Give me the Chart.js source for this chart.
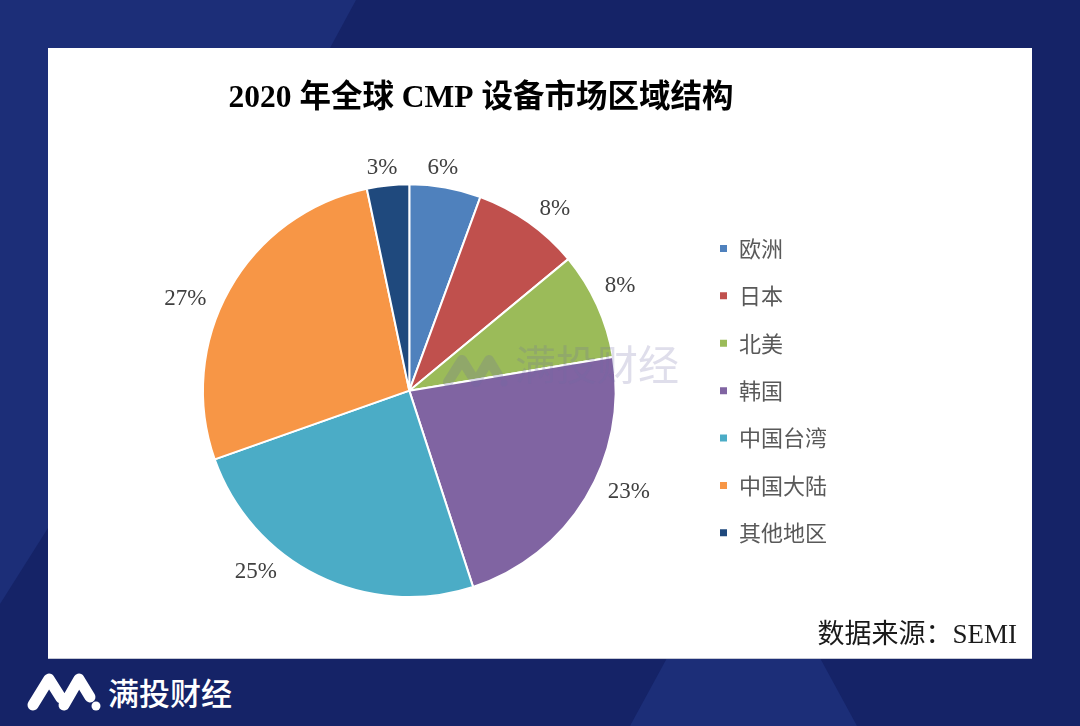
<!DOCTYPE html>
<html>
<head>
<meta charset="utf-8">
<script src="https://cdn.jsdelivr.net/npm/chart.js@4.4.0/dist/chart.umd.min.js"></script>
<style>
  html, body { margin: 0; padding: 0; }
  body {
    width: 1080px; height: 726px; position: relative; overflow: hidden;
    background: #152367; font-family: "Noto Sans CJK SC", sans-serif;
  }
  #bg { position: absolute; left: 0; top: 0; }
  #panel {
    position: absolute; left: 48px; top: 48px; width: 984px; height: 610px;
    background: #fff; box-shadow: 0 1px 0 #c4c7d4;
  }
  #chartBox { position: absolute; left: 0; top: 0; width: 984px; height: 610px; }
  #wm { position: absolute; left: 392px; top: 282px; pointer-events: none; }
  #wm span {
    position: absolute; left: 75px; top: 2px; white-space: nowrap;
    font-size: 41px; color: rgba(110, 105, 165, 0.22); font-family: "Noto Sans CJK SC", sans-serif;
  }
  #source {
    position: absolute; right: 15px; top: 564px; font-size: 27px; color: #1a1a1a;
    font-family: "Liberation Serif", "Noto Sans CJK SC", serif; white-space: nowrap;
  }
  #brand {
    position: absolute; left: 108px; top: 672px; font-size: 31px; color: #fff;
    font-weight: 500; white-space: nowrap; line-height: 40px;
  }
  #mark { position: absolute; left: 0; top: 0; }
</style>
</head>
<body>
<svg id="bg" width="1080" height="726">
  <polygon points="0,0 356,0 330,48 48,528 0,604" fill="#1c2e78"/>
  <polygon points="630,726 667,658 820,658 857,726" fill="#1c2e78"/>
</svg>
<svg id="mark" width="120" height="726">
  <path d="M33,705 L49,679 L61,698 M64,705 L79,679 L90,697" stroke="#fff" stroke-width="11"
        stroke-linecap="round" stroke-linejoin="round" fill="none"/>
  <circle cx="96" cy="706" r="4.5" fill="#fff"/>
</svg>
<div id="brand">满投财经</div>

<div id="panel">
  <div id="chartBox"><canvas id="pieChart"></canvas></div>
  <div id="wm">
    <svg width="70" height="60">
      <path d="M8,52 L22,30 L32,46 M36,52 L49,30 L58,45" stroke="rgba(110,105,165,0.24)" stroke-width="10"
            stroke-linecap="round" stroke-linejoin="round" fill="none"/>
      <circle cx="64" cy="53" r="3.5" fill="rgba(110,105,165,0.24)"/>
    </svg>
    <span>满投财经</span>
  </div>
  <div id="source">数据来源：SEMI</div>
</div>

<script>
// 2020 年全球 CMP 设备市场区域结构 (%)
const regions = ["欧洲", "日本", "北美", "韩国", "中国台湾", "中国大陆", "其他地区"];
const shares = [5.6, 8.4, 8.4, 22.6, 24.6, 27.1, 3.3];
const sliceColors = ["#4f81bd", "#c0504d", "#9bbb59", "#8064a2", "#4bacc6", "#f79646", "#1f497d"];

// percent labels placed just outside each slice (angle nudge in degrees, like a hand-moved Excel label)
const outsideLabels = {
  id: "outsideLabels",
  afterDatasetsDraw(chart, args, opts) {
    const ctx = chart.ctx;
    const meta = chart.getDatasetMeta(0);
    ctx.save();
    ctx.font = opts.font;
    ctx.fillStyle = opts.color;
    ctx.textAlign = "center";
    ctx.textBaseline = "middle";
    meta.data.forEach((arc, i) => {
      const p = arc.getProps(["x", "y", "startAngle", "endAngle", "outerRadius"], true);
      const mid = (p.startAngle + p.endAngle) / 2 + (opts.nudge[i] || 0) * Math.PI / 180;
      const text = Math.round(shares[i]) + "%";
      const w = ctx.measureText(text).width;
      const ext = Math.abs(Math.cos(mid)) * w * 0.6 + Math.abs(Math.sin(mid)) * 6;
      const d = p.outerRadius + opts.gap + ext;
      ctx.fillText(text, p.x + Math.cos(mid) * d, p.y + Math.sin(mid) * d);
    });
    ctx.restore();
  }
};

new Chart(document.getElementById("pieChart"), {
  type: "pie",
  data: {
    labels: regions,
    datasets: [{
      data: shares,
      backgroundColor: sliceColors,
      borderColor: "#ffffff",
      borderWidth: 2
    }]
  },
  options: {
    responsive: true,
    maintainAspectRatio: false,
    animation: false,
    layout: { padding: { left: 77, right: 195, top: 0, bottom: 60 } },
    plugins: {
      title: {
        display: true,
        text: "2020 年全球 CMP 设备市场区域结构",
        color: "#000",
        font: { size: 31.5, weight: "bold", family: "'Liberation Serif', 'Noto Sans CJK SC', serif" },
        padding: { top: 32, bottom: 65.5 }
      },
      legend: {
        position: "right",
        fullSize: false,
        labels: {
          boxWidth: 9,
          boxHeight: 9,
          padding: 25.4,
          color: "#595959",
          font: { size: 22, family: "'Noto Sans CJK SC', sans-serif" }
        }
      },
      tooltip: { enabled: false },
      outsideLabels: {
        font: "23px 'Liberation Serif', 'Times New Roman', serif",
        color: "#404040",
        gap: 10,
        nudge: [-1.5, 3.5, -2, -6.5, 14, -7, -1]
      }
    }
  },
  plugins: [outsideLabels]
});
</script>
</body>
</html>
